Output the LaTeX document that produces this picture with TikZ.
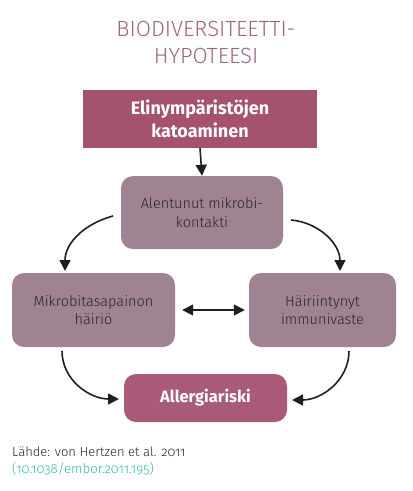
\documentclass[tikz,border=0pt]{standalone}
\usepackage{fontspec}
\setmainfont{Fira Sans}[Numbers=OldStyle]
\newfontfamily\lightfont{Fira Sans Light}[Numbers=OldStyle]
\usetikzlibrary{arrows.meta}
\definecolor{rosedark}{HTML}{A4526F}
\definecolor{rosebot}{HTML}{A85A78}
\definecolor{mauve}{HTML}{A08393}
\definecolor{titlecol}{HTML}{A0637F}
\definecolor{linkcol}{HTML}{3AB5B0}
\definecolor{txtdark}{HTML}{26252B}
\tikzset{
  darkbox/.style={fill=rosedark, text=white, align=center, inner sep=0pt,
    font=\fontsize{18}{23}\selectfont\bfseries},
  mauvebox/.style={fill=mauve, text=txtdark, align=center, inner sep=0pt,
    rounded corners=12pt, font=\lightfont\fontsize{14.5}{18.5}\selectfont},
  conn/.style={draw=black!88, line width=1.6pt, -{Triangle[length=11pt,width=11pt]}},
  dconn/.style={draw=black!88, line width=1.6pt, {Triangle[length=11pt,width=11pt]}-{Triangle[length=11pt,width=11pt]}}
}
\begin{document}
\begin{tikzpicture}[x=1pt,y=-1pt]
\useasboundingbox (0,0) rectangle (413,491);
\node[text=titlecol, align=center, font=\lightfont\fontsize{22}{27}\selectfont] (title) at (206,42) {BIODIVERSITEETTI-\\HYPOTEESI};
\node[darkbox, minimum width=234pt, minimum height=58pt] (top) at (200,119) {Elinympäristöjen\\katoaminen};
\node[mauvebox, minimum width=162pt, minimum height=73pt] (mid) at (202,212.5) {Alentunut mikrobi-\\kontakti};
\node[mauvebox, minimum width=163pt, minimum height=74pt] (left) at (93.5,310) {Mikrobitasapainon\\häiriö};
\node[mauvebox, minimum width=147pt, minimum height=74pt] (right) at (322.5,310) {Häiriintynyt\\immunivaste};
\node[darkbox, fill=rosebot, rounded corners=12pt, minimum width=163pt, minimum height=48pt, font=\fontsize{16.5}{21}\selectfont\bfseries] (bot) at (205.5,398) {Allergiariski};
\node[anchor=base west, text=txtdark, font=\lightfont\fontsize{13}{15}\selectfont, inner sep=0pt] (src) at (12,456) {Lähde: von Hertzen et al. 2011};
\node[anchor=base west, text=linkcol, font=\lightfont\fontsize{13.3}{15}\selectfont, inner sep=0pt] (doi) at (12,473) {(10.1038/embor.2011.195)};
% coordinates for connector ends
\coordinate (mL) at (113,216);
\coordinate (mR) at (291,220);
\coordinate (lT) at (65,271);
\coordinate (rT) at (340,271);
\coordinate (lB) at (62,351);
\coordinate (rB) at (349,351);
\coordinate (bL) at (119,399);
\coordinate (bR) at (292,400);
\draw[conn] (top.south) -- (mid.north);
\draw[conn] (mL) to[out=195,in=90] (lT);
\draw[conn] (mR) to[out=-5,in=90] (rT);
\draw[conn] (lB) to[out=-90,in=180] (bL);
\draw[conn] (rB) to[out=-90,in=0] (bR);
\draw[dconn] ([xshift=7pt]left.east) -- ([xshift=-4pt]right.west);
\end{tikzpicture}
\end{document}
